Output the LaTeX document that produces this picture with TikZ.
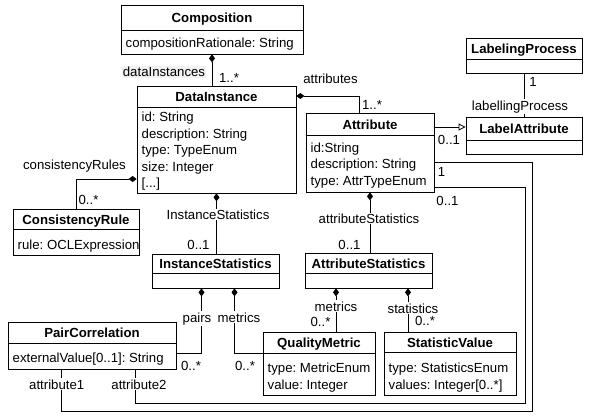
\documentclass[tikz,border=0pt]{standalone}
\usepackage{fontspec}
\setmainfont{Liberation Sans}
\usetikzlibrary{arrows.meta,fit}
\frenchspacing
\newcommand{\umlattr}[1]{\hbox{#1}}
% name, left, top, right, divider, bottom, title, first baseline, attributes
\newcommand{\umlclass}[9]{%
  \node[classbox, fit={(#2,#3) (#4,#6)}] (#1) {};
  \draw[boxline] (#2,#5) -- (#4,#5);
  \node[anchor=base, inner sep=0pt] (#1-title) at ({(#2+#4)/2},{(#3+#5)/2+5}) {\bfseries #7};
  \node[anchor=base west, inner sep=0pt] (#1-attrs) at ({#2+4.5},#8) {\vtop{\baselineskip=16.5pt\relax #9}};
}
\begin{document}
\begin{tikzpicture}[x=1pt,y=-1pt,font=\fontsize{13.2}{16}\selectfont\frenchspacing,
  classbox/.style={draw, line width=0.8pt, inner sep=0pt},
  boxline/.style={line width=0.8pt},
  conn/.style={line width=0.8pt},
  comp/.style={conn, {Diamond[length=8pt,width=6pt]}-},
  gen/.style={conn, -{Triangle[open,length=7pt,width=7pt]}},
  lbl/.style={inner sep=1pt, anchor=base},
  lblw/.style={lbl, fill=white}]
\useasboundingbox (0,0) rectangle (589,415);

% classes
\umlclass{Composition}{121}{5}{303}{30}{54}{Composition}{47}{\umlattr{compositionRationale: String}}
\umlclass{DataInstance}{137}{86}{296}{107}{193}{DataInstance}{121.5}{\umlattr{id: String}\umlattr{description: String}\umlattr{type: TypeEnum}\umlattr{size: Integer}\umlattr{[...]}}
\umlclass{Attribute}{306}{113}{434}{135}{192}{Attribute}{152}{\umlattr{id:String}\umlattr{description: String}\umlattr{type: AttrTypeEnum}}
\umlclass{LabelingProcess}{466}{38}{582}{59}{73}{LabelingProcess}{70}{}
\umlclass{LabelAttribute}{466}{117}{582}{140}{154}{LabelAttribute}{150}{}
\umlclass{ConsistencyRule}{13}{209}{139}{229}{255}{ConsistencyRule}{249.5}{\umlattr{rule: OCLExpression}}
\umlclass{InstanceStatistics}{152}{254}{279}{273}{288}{InstanceStatistics}{285}{}
\umlclass{AttributeStatistics}{305}{253}{432}{273}{288}{AttributeStatistics}{285}{}
\umlclass{PairCorrelation}{8}{322}{176}{343}{369}{PairCorrelation}{362.5}{\umlattr{externalValue[0..1]: String}}
\umlclass{QualityMetric}{263}{332}{375}{353}{395}{QualityMetric}{372.5}{\umlattr{type: MetricEnum}\umlattr{value: Integer}}
\umlclass{StatisticValue}{384}{332}{516}{352}{395}{StatisticValue}{372.5}{\umlattr{type: StatisticsEnum}\umlattr{values: Integer[0..*]}}

% helper coordinates
\coordinate (c1) at (532,411);
\coordinate (c2) at (525,403);

% connectors
\draw[comp] (Composition.south) -- (Composition.south |- DataInstance.north);
\draw[comp] ([yshift=43.5pt]DataInstance.east) -| ([xshift=-11pt]Attribute.north);
\draw[comp] ([yshift=-39.5pt]DataInstance.west) -| (ConsistencyRule.north);
\draw[comp] (DataInstance.south) -- (DataInstance.south |- InstanceStatistics.north);
\draw[comp] (Attribute.south) -- (Attribute.south |- AttributeStatistics.north);
\draw[gen] ([yshift=25.5pt]Attribute.east) -- ([yshift=25.5pt]Attribute.east -| LabelAttribute.west);
\draw[conn] (LabelingProcess.south) -- (LabelAttribute.north);
\draw[comp] ([xshift=-14pt]InstanceStatistics.south) |- ([yshift=-7.5pt]PairCorrelation.east);
\draw[comp] ([xshift=19pt]InstanceStatistics.south) |- ([yshift=10.5pt]QualityMetric.west);
\draw[comp] ([xshift=-32.5pt]AttributeStatistics.south) -- ([xshift=-32.5pt]AttributeStatistics.south |- QualityMetric.north);
\draw[comp] ([xshift=39.5pt]AttributeStatistics.south) -- ([xshift=39.5pt]AttributeStatistics.south |- StatisticValue.north);
\draw[conn] ([xshift=-31pt]PairCorrelation.south) |- (c1) |- ([yshift=-9.5pt]Attribute.east);
\draw[conn] ([xshift=43pt]PairCorrelation.south) |- (c2) |- ([yshift=-34.5pt]Attribute.east);

% labels
\node[lbl, fill=black!5] (lDI) at (164,76.5) {dataInstances};
\node[lbl] (m1) at (229,82.5) {1..*};
\node[lbl] (lAt) at (330.5,83.3) {attributes};
\node[lbl] (m2) at (372,109.3) {1..*};
\node[lbl] (m3) at (533,86) {1};
\node[lblw] (lLP) at (520,110) {labellingProcess};
\node[lbl] (m4) at (449,144) {0..1};
\node[lbl] (m5) at (441.5,176) {1};
\node[lbl] (m6) at (447.5,205) {0..1};
\node[lbl] (lCR) at (74.5,169) {consistencyRules};
\node[lbl] (m7) at (88.5,204) {0..*};
\node[lblw] (lIS) at (218,219.3) {InstanceStatistics};
\node[lbl] (m8) at (198.5,249.3) {0..1};
\node[lblw] (lAS) at (369,223.3) {attributeStatistics};
\node[lbl] (m9) at (349.5,249.3) {0..1};
\node[lblw] (lpairs) at (197,322) {pairs};
\node[lblw] (lmet1) at (239,322) {metrics};
\node[lbl] (m10) at (191,370) {0..*};
\node[lbl] (m11) at (245,370) {0..*};
\node[lblw] (la1) at (56.7,389) {attribute1};
\node[lblw] (la2) at (139,389) {attribute2};
\node[lblw] (lmet2) at (336,311) {metrics};
\node[lbl] (m12) at (320.5,326) {0..*};
\node[lblw] (lstat) at (413,313) {statistics};
\node[lbl] (m13) at (425,325) {0..*};
\end{tikzpicture}
\end{document}
